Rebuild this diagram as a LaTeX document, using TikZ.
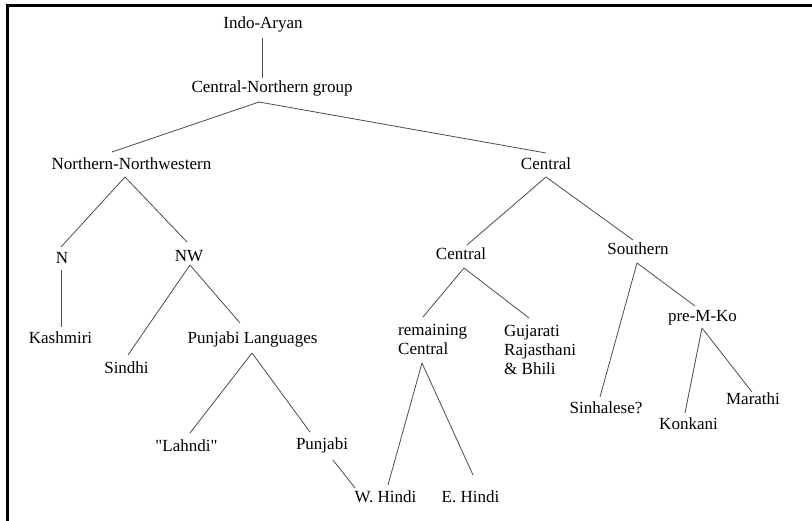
\documentclass[tikz,border=0pt]{standalone}
\usepackage{fontspec}
\setmainfont{Liberation Serif}
\usetikzlibrary{calc}
\begin{document}
\begin{tikzpicture}[x=1pt,y=-1pt,
  lbl/.style={inner sep=0pt, anchor=base, font=\fontsize{17}{19}\selectfont},
  lblleft/.style={lbl, anchor=base west, align=left},
  branch/.style={draw=black!70, line width=0.8pt}]
\useasboundingbox (0,0) rectangle (812,521);
% frame along the left and top edges
\draw[line width=3pt] (7.5,521) -- (7.5,5.5) -- (812,5.5);

% labels of the tree (multi-line labels are placed by their last line)
\node[lbl] (ia)   at (263,28.5)  {Indo-Aryan};
\node[lbl] (cng)  at (272,93)    {Central-Northern group};
\node[lbl] (nn)   at (131.5,170) {Northern-Northwestern};
\node[lbl] (cen)  at (546,170)   {Central};
\node[lbl] (n)    at (62,264)    {N};
\node[lbl] (nw)   at (189,262)   {NW};
\node[lbl] (kas)  at (60.5,344)  {Kashmiri};
\node[lbl] (pl)   at (252.5,343.5) {Punjabi Languages};
\node[lbl] (sin)  at (126.5,374) {Sindhi};
\node[lbl] (lah)  at (186.5,452) {\textquotedbl Lahndi\textquotedbl};
\node[lbl] (pun)  at (322,449.5) {Punjabi};
\node[lbl] (wh)   at (385.5,503) {W. Hindi};
\node[lbl] (eh)   at (470.5,502) {E. Hindi};
\node[lbl] (cen2) at (461,260)   {Central};
\node[lbl] (sou)  at (638,255)   {Southern};
\node[lblleft] (rem) at (398,355) {remaining\\Central};
\node[lblleft] (guj) at (504,374.5) {Gujarati\\Rajasthani\\\& Bhili};
\node[lbl] (pmk)  at (702.5,321.5) {pre-M-Ko};
\node[lbl] (sinh) at (606,413.5) {Sinhalese?};
\node[lbl] (mar)  at (753,404.5) {Marathi};
\node[lbl] (kon)  at (688.5,429.5) {Konkani};

% branches
\draw[branch] ($(ia.base)+(-1,9.5)$)    -- ($(cng.base)+(-10,-15)$);
\draw[branch] ($(cng.base)+(-13,9)$)    -- ($(nn.base)+(-19.5,-18)$);
\draw[branch] ($(cng.base)+(-13,9)$)    -- ($(cen.base)+(0,-17)$);
\draw[branch] ($(cen.base)+(0,7)$)      -- ($(cen2.base)+(6,-15)$);
\draw[branch] ($(cen.base)+(0,7)$)      -- ($(sou.base)+(-5,-15)$);
\draw[branch] ($(nn.base)+(-6.5,7)$)    -- ($(n.base)+(-1,-17)$);
\draw[branch] ($(nn.base)+(-6.5,7)$)    -- ($(nw.base)+(-2,-20)$);
\draw[branch] ($(n.base)+(-1,6)$)       -- ($(kas.base)+(0.5,-17)$);
\draw[branch] ($(nw.base)+(1,3)$)       -- ($(sin.base)+(1.5,-19)$);
\draw[branch] ($(nw.base)+(1,3)$)       -- ($(pl.base)+(-12.5,-20.5)$);
\draw[branch] ($(pl.base)+(-0.5,9.5)$)  -- ($(lah.base)+(3.5,-19)$);
\draw[branch] ($(pl.base)+(-0.5,9.5)$)  -- ($(pun.base)+(-12,-17.5)$);
\draw[branch] ($(pun.base)+(11,10.5)$)  -- ($(wh.base)+(-30.5,-15)$);
\draw[branch] ($(rem.base west)+(24,8)$) -- ($(wh.base)+(2.5,-18)$);
\draw[branch] ($(rem.base west)+(24,8)$) -- ($(eh.base)+(2.5,-27)$);
\draw[branch] ($(cen2.base)+(3,8)$)     -- ($(rem.base west)+(25,-38)$);
\draw[branch] ($(cen2.base)+(3,8)$)     -- ($(guj.base west)+(25,-56.5)$);
\draw[branch] ($(sou.base)+(-1,8)$)     -- ($(sinh.base)+(-6,-16.5)$);
\draw[branch] ($(sou.base)+(-1,8)$)     -- ($(pmk.base)+(-7.5,-15.5)$);
\draw[branch] ($(pmk.base)+(-0.5,6.5)$) -- ($(kon.base)+(-3.5,-16.5)$);
\draw[branch] ($(pmk.base)+(-0.5,6.5)$) -- ($(mar.base)+(-1,-12.5)$);
\end{tikzpicture}
\end{document}
